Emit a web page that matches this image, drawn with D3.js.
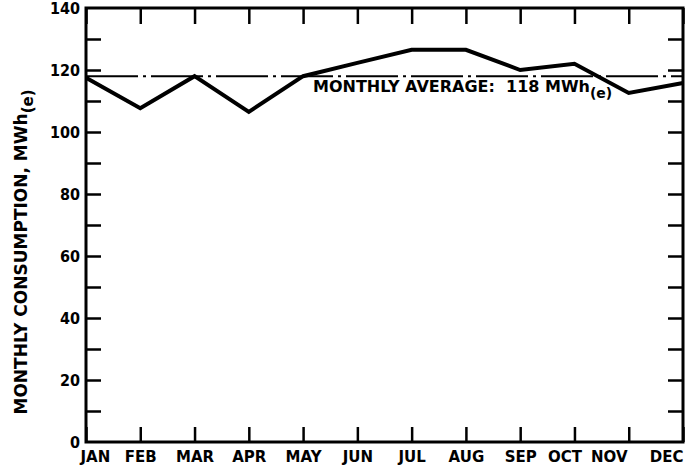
<!DOCTYPE html>
<html lang="en">
    <head>
        <meta charset="utf-8">
        <title>Monthly Consumption</title>
        <script src="https://d3js.org/d3.v7.min.js"></script>
        <style type="text/css">
            body { margin: 0; background: #fff; }
            .axis path { display: none; }
            .axis line { stroke: #000; stroke-width: 2.5px; }
            .axis text {
                font-family: "DejaVu Sans", sans-serif;
                font-weight: bold;
                font-size: 15px;
                fill: #000;
            }
            .yaxis text { font-family: "DejaVu Sans Condensed", "DejaVu Sans", sans-serif; font-size: 16px; }
            .frame { fill: none; stroke: #000; stroke-width: 3px; }
            .series { fill: none; stroke: #000; stroke-width: 4px; stroke-linejoin: miter; }
            .avg { stroke: #000; stroke-width: 2px; stroke-dasharray: 52,5,3,5; }
            .lbl { font-family: "DejaVu Sans", sans-serif; font-weight: bold; fill: #000; }
        </style>
    </head>
    <body>
        <script type="text/javascript">
            // data
            const months = ["JAN","FEB","MAR","APR","MAY","JUN","JUL","AUG","SEP","OCT","NOV","DEC"];
            const consumption = [117.5, 107.7, 118, 106.5, 118, 122.3, 126.5, 126.5, 120, 122, 112.6, 115.8];
            const monthlyAverage = 118;
            const yTicks = [0,10,20,30,40,50,60,70,80,90,100,110,120,130,140];

            const w = 694, h = 472;
            const mLeft = 86, mRight = 683, mTop = 8, mBottom = 442;

            const xScale = d3.scalePoint().domain(months).range([mLeft, mRight]);
            const yScale = d3.scaleLinear().domain([0, 140]).range([mBottom, mTop]);

            const svg = d3.select("body").append("svg")
                .attr("width", w).attr("height", h);

            // left axis, ticks inward, label every 20
            svg.append("g")
                .attr("class", "axis yaxis")
                .attr("transform", "translate(" + mLeft + ",0)")
                .call(d3.axisLeft(yScale).tickValues(yTicks.filter(d => d > 0 && d < 140))
                    .tickSize(-15).tickPadding(6)
                    .tickFormat(d => d % 20 === 0 ? d : ""));
            // labels for 0 and 140 (ticks hidden by frame)
            svg.append("g")
                .attr("class", "axis yaxis")
                .attr("transform", "translate(" + mLeft + ",0)")
                .call(d3.axisLeft(yScale).tickValues([0, 140]).tickSize(0).tickPadding(6));

            // right axis, inward ticks
            svg.append("g")
                .attr("class", "axis")
                .attr("transform", "translate(" + mRight + ",0)")
                .call(d3.axisRight(yScale).tickValues(yTicks.filter(d => d > 0 && d < 140))
                    .tickSize(-15).tickFormat(""));

            // bottom axis
            const labelShift = { JAN: -6, OCT: -10, NOV: -20 };
            const bottomAxis = svg.append("g")
                .attr("class", "axis")
                .attr("transform", "translate(0," + mBottom + ")")
                .call(d3.axisBottom(xScale).tickSize(-15));
            bottomAxis.selectAll(".tick text")
                .attr("y", 20)
                .attr("dy", 0)
                .attr("text-anchor", d => d === "JAN" ? "start" : d === "DEC" ? "end" : "middle")
                .attr("dx", d => labelShift[d] || 0);

            // top axis
            svg.append("g")
                .attr("class", "axis")
                .attr("transform", "translate(0," + mTop + ")")
                .call(d3.axisTop(xScale).tickSize(-16).tickFormat(""));

            // frame
            svg.append("rect")
                .attr("class", "frame")
                .attr("x", mLeft).attr("y", mTop)
                .attr("width", mRight - mLeft).attr("height", mBottom - mTop);

            // average line
            svg.append("line")
                .attr("class", "avg")
                .attr("x1", mLeft).attr("x2", mRight)
                .attr("y1", yScale(monthlyAverage)).attr("y2", yScale(monthlyAverage));

            const avgLabel = svg.append("text")
                .attr("class", "lbl")
                .attr("x", 313).attr("y", yScale(monthlyAverage) + 16)
                .style("font-size", "16px");
            avgLabel.append("tspan").text("MONTHLY AVERAGE:\u00a0\u00a0118 MWh");
            avgLabel.append("tspan").attr("dy", 6).style("font-size", "14px").text("(e)");

            // consumption line
            const line = d3.line()
                .x((d, i) => xScale(months[i]))
                .y(d => yScale(d));
            svg.append("path")
                .datum(consumption)
                .attr("class", "series")
                .attr("d", line);

            // y axis title
            const yTitle = svg.append("text")
                .attr("class", "lbl")
                .attr("transform", "translate(27," + 252 + ") rotate(-90)")
                .attr("text-anchor", "middle")
                .style("font-size", "17px");
            yTitle.append("tspan").text("MONTHLY CONSUMPTION, MWh");
            yTitle.append("tspan").attr("dy", 6).style("font-size", "15px").text("(e)");
        </script>
    </body>
</html>
